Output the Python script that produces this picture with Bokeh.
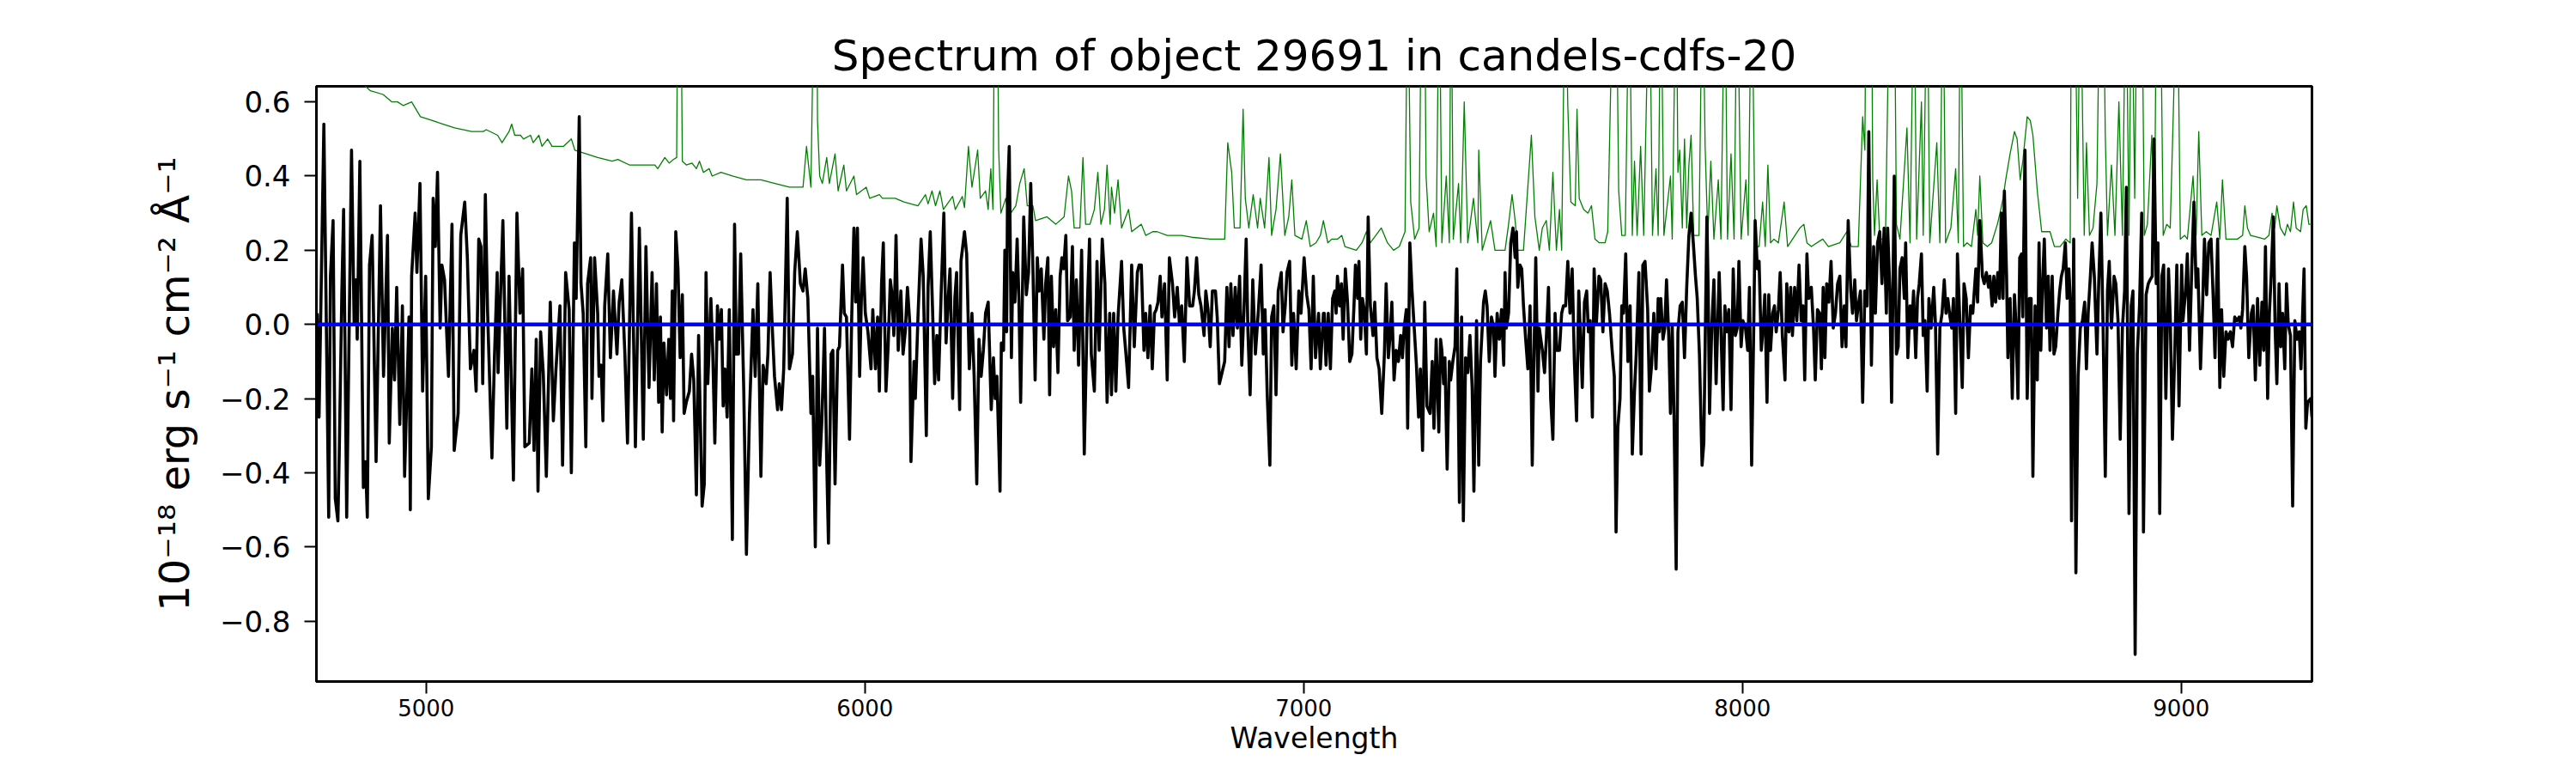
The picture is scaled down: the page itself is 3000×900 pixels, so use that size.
from bokeh.plotting import figure
from bokeh.models import Range1d, FixedTicker, CustomJSTickFormatter
from bokeh.embed import file_html
from bokeh.resources import INLINE

# ---------------- data (wavelength [A], flux [1e-18 erg/s/cm2/A]) ----------------
spec_4750_5520 = [
    (4752, 0.03), (4756, -0.25), (4767, 0.54), (4778, -0.52), (4782, 0.13), (4788, 0.28), (4793, -0.47),
    (4799, -0.53), (4802, -0.35), (4808, 0.09), (4812, 0.31), (4819, -0.52), (4830, 0.47), (4836, 0.00),
    (4840, 0.12), (4843, -0.04), (4849, 0.44), (4857, -0.44), (4862, -0.37), (4866, -0.52), (4871, 0.16),
    (4877, 0.24), (4886, -0.37), (4896, 0.32), (4903, -0.14), (4912, 0.24), (4916, -0.32), (4923, -0.01),
    (4928, -0.15), (4933, 0.10), (4940, -0.27), (4946, 0.05), (4951, -0.41), (4961, 0.02), (4964, -0.50),
    (4967, 0.13), (4975, 0.30), (4979, 0.14), (4986, 0.38), (4992, -0.18), (4999, 0.13), (5005, -0.47),
    (5012, -0.33), (5016, 0.34), (5021, 0.21), (5026, 0.41), (5032, -0.01), (5036, 0.16), (5042, 0.12),
    (5051, -0.14), (5059, 0.27), (5064, -0.34), (5073, -0.24), (5079, 0.24), (5088, 0.33), (5094, 0.18),
    (5101, -0.12), (5109, -0.07), (5114, -0.18), (5120, 0.23), (5125, 0.21), (5129, -0.16), (5135, 0.35),
    (5140, 0.04), (5150, -0.36), (5156, -0.08), (5162, 0.14), (5164, -0.13), (5175, 0.28), (5184, -0.28),
    (5189, 0.13), (5199, -0.42), (5207, 0.30), (5214, 0.03), (5220, 0.15), (5225, -0.33), (5235, -0.32),
    (5241, -0.12), (5246, -0.34), (5251, -0.04), (5255, -0.45), (5261, -0.02), (5267, -0.13), (5274, -0.41),
    (5283, 0.06), (5290, -0.26), (5296, -0.12), (5305, 0.05), (5311, -0.38), (5318, 0.14), (5326, 0.04),
    (5331, -0.40), (5338, 0.22), (5342, 0.07), (5349, 0.56), (5353, 0.11), (5358, 0.03), (5364, -0.33),
    (5368, 0.11), (5375, 0.18), (5378, -0.20), (5384, 0.18), (5391, 0.03), (5394, -0.14), (5399, -0.11),
    (5403, -0.26), (5407, 0.05), (5414, 0.19), (5420, -0.09), (5427, 0.09), (5435, -0.08), (5440, 0.06),
    (5446, 0.12), (5453, -0.08), (5459, -0.32), (5468, 0.30), (5477, -0.33), (5486, 0.26), (5495, -0.31),
    (5501, 0.21), (5508, -0.17), (5515, 0.14),
]
spec_5520_6285 = [
    (5520, -0.15), (5525, 0.11), (5530, -0.21), (5534, 0.02), (5538, -0.29), (5542, -0.05), (5548, -0.19),
    (5553, -0.04), (5557, -0.20), (5561, 0.09), (5564, -0.26), (5569, 0.25), (5574, 0.15), (5579, -0.09),
    (5584, 0.08), (5588, -0.24), (5593, -0.21), (5600, -0.18), (5605, -0.08), (5610, -0.15), (5616, -0.46),
    (5621, -0.03), (5629, -0.49), (5634, -0.43), (5638, 0.14), (5642, -0.16), (5649, 0.07), (5653, -0.06),
    (5658, -0.32), (5664, 0.05), (5668, -0.04), (5673, 0.04), (5677, -0.22), (5681, -0.12), (5686, -0.25),
    (5691, 0.04), (5698, -0.58), (5703, 0.27), (5707, -0.08), (5712, -0.08), (5717, 0.19), (5724, -0.18),
    (5730, -0.62), (5737, -0.24), (5745, 0.04), (5750, -0.14), (5756, 0.11), (5763, -0.41), (5768, -0.11),
    (5775, -0.16), (5779, -0.08), (5784, 0.14), (5789, -0.01), (5794, -0.14), (5801, -0.23), (5805, -0.16),
    (5810, -0.23), (5815, -0.12), (5818, 0.05), (5823, 0.34), (5828, -0.12), (5835, -0.08), (5840, 0.14),
    (5846, 0.25), (5853, 0.11), (5859, 0.09), (5864, 0.15), (5870, 0.07), (5877, -0.24), (5881, -0.14),
    (5887, -0.60), (5892, -0.01), (5897, -0.38), (5902, -0.26), (5908, -0.01), (5913, -0.37), (5917, -0.59),
    (5923, -0.08), (5927, -0.07), (5932, -0.43), (5938, -0.07), (5942, -0.06), (5949, 0.16), (5953, 0.03),
    (5958, 0.02), (5965, -0.31), (5970, 0.02), (5975, 0.26), (5979, 0.06), (5983, 0.26), (5988, -0.14),
    (5992, 0.07), (5996, 0.18), (6001, 0.03), (6007, -0.02), (6014, -0.12), (6018, 0.04), (6024, -0.12),
    (6029, 0.02), (6033, -0.18), (6038, 0.11), (6042, 0.22), (6048, -0.18), (6053, -0.06), (6058, 0.12),
    (6061, 0.09), (6066, -0.03), (6071, 0.24), (6076, -0.07), (6082, 0.09), (6087, -0.08), (6092, -0.02),
    (6097, 0.10), (6102, 0.01), (6105, -0.37), (6112, -0.10), (6115, -0.20), (6121, 0.02), (6128, 0.23),
    (6133, 0.13), (6140, -0.30), (6144, 0.10), (6149, 0.25), (6154, 0.05), (6159, -0.16), (6164, -0.03),
    (6168, -0.15), (6174, 0.09), (6180, 0.30), (6185, -0.05), (6190, 0.07), (6194, 0.15), (6200, -0.20),
    (6205, 0.07), (6209, 0.14), (6216, -0.23), (6219, 0.17), (6227, 0.25), (6232, 0.19), (6238, -0.12),
    (6244, 0.03), (6249, -0.14), (6255, -0.43), (6260, -0.04), (6265, -0.14), (6270, -0.07), (6275, 0.03),
    (6281, 0.06),
]
spec_6285_7045 = [
    (6288, -0.23), (6293, -0.09), (6297, -0.20), (6301, -0.14), (6308, -0.45), (6311, -0.05), (6316, -0.07),
    (6319, 0.20), (6323, -0.02), (6325, 0.34), (6329, 0.48), (6334, -0.09), (6337, 0.14), (6342, 0.06),
    (6347, 0.23), (6351, 0.07), (6355, -0.21), (6362, 0.29), (6368, 0.08), (6373, 0.14), (6378, 0.38),
    (6383, 0.15), (6388, -0.15), (6393, 0.18), (6397, 0.09), (6402, 0.15), (6408, -0.04), (6412, 0.11),
    (6417, 0.18), (6421, -0.19), (6425, 0.13), (6430, -0.06), (6435, 0.04), (6440, -0.13), (6445, 0.13),
    (6449, 0.18), (6453, 0.15), (6458, 0.24), (6462, 0.01), (6468, 0.02), (6473, 0.21), (6477, -0.07),
    (6482, 0.12), (6487, -0.11), (6494, 0.20), (6500, -0.35), (6507, 0.05), (6512, 0.23), (6516, -0.08),
    (6523, -0.18), (6529, 0.17), (6534, -0.07), (6541, 0.23), (6547, 0.11), (6552, -0.21), (6558, 0.03),
    (6562, -0.19), (6567, 0.03), (6572, -0.18), (6577, 0.02), (6585, 0.17), (6590, -0.01), (6595, -0.08),
    (6601, -0.17), (6608, 0.16), (6614, -0.06), (6621, 0.14), (6625, 0.16), (6630, 0.16), (6636, -0.07),
    (6640, 0.03), (6645, -0.09), (6650, 0.05), (6655, -0.12), (6660, 0.03), (6664, 0.04), (6668, 0.06),
    (6673, 0.13), (6677, 0.02), (6683, 0.11), (6689, -0.15), (6694, 0.18), (6701, 0.11), (6706, 0.02),
    (6712, 0.10), (6717, 0.00), (6722, 0.05), (6728, -0.10), (6734, 0.18), (6740, 0.05), (6747, 0.05),
    (6751, 0.09), (6756, 0.18), (6761, 0.08), (6766, 0.05), (6773, -0.03), (6777, 0.09), (6782, 0.04),
    (6787, -0.06), (6792, 0.09), (6799, 0.09), (6803, 0.02), (6808, -0.16), (6814, -0.13), (6820, -0.10),
    (6825, 0.10), (6830, -0.06), (6834, 0.11), (6839, -0.03), (6844, 0.10), (6849, -0.01), (6854, 0.13),
    (6859, -0.11), (6864, 0.04), (6869, 0.23), (6873, -0.02), (6878, -0.19), (6884, 0.12), (6890, -0.08),
    (6897, 0.04), (6903, 0.16), (6908, -0.08), (6912, 0.04), (6917, -0.19), (6923, -0.38), (6927, 0.02),
    (6932, 0.05), (6937, -0.19), (6942, 0.09), (6949, 0.14), (6953, -0.02), (6958, 0.05), (6962, 0.14),
    (6968, 0.17), (6973, -0.11), (6977, 0.03), (6983, -0.12), (6989, 0.09), (6994, 0.03), (7001, 0.18),
    (7007, 0.08), (7012, 0.04), (7017, -0.12), (7022, 0.13), (7027, -0.09), (7034, 0.03), (7038, -0.12),
    (7045, 0.03),
]
spec_7045_7810 = [
    (7047, 0.03), (7051, -0.11), (7056, 0.03), (7061, -0.12), (7066, 0.07), (7071, 0.09), (7074, 0.03),
    (7077, 0.13), (7082, 0.05), (7086, 0.11), (7090, -0.04), (7095, 0.15), (7100, 0.06), (7105, -0.10),
    (7110, -0.08), (7115, 0.06), (7118, 0.16), (7123, 0.07), (7126, 0.17), (7130, -0.04), (7134, 0.07),
    (7138, 0.04), (7143, -0.08), (7147, 0.29), (7152, 0.05), (7158, -0.03), (7162, 0.06), (7167, -0.09),
    (7172, -0.12), (7178, -0.24), (7184, -0.08), (7188, 0.11), (7193, -0.09), (7197, -0.03), (7201, 0.06),
    (7206, -0.15), (7211, -0.07), (7216, -0.10), (7221, -0.03), (7225, -0.09), (7229, -0.01), (7234, 0.04),
    (7237, -0.28), (7242, 0.22), (7247, 0.09), (7251, 0.01), (7257, -0.11), (7262, -0.25), (7266, -0.12),
    (7271, -0.34), (7276, 0.06), (7281, -0.22), (7288, -0.24), (7293, -0.10), (7297, -0.28), (7302, -0.04),
    (7308, -0.29), (7312, -0.04), (7315, -0.07), (7319, -0.16), (7322, -0.09), (7327, -0.39), (7332, -0.10),
    (7335, -0.15), (7340, -0.10), (7345, -0.06), (7349, 0.15), (7355, -0.48), (7360, 0.02), (7364, -0.53),
    (7369, -0.09), (7374, -0.13), (7379, -0.03), (7384, -0.17), (7388, -0.45), (7394, 0.01), (7399, -0.38),
    (7403, -0.10), (7410, 0.06), (7414, 0.09), (7418, 0.05), (7423, -0.10), (7428, 0.02), (7433, -0.01),
    (7436, -0.14), (7441, 0.03), (7446, -0.04), (7451, 0.04), (7456, -0.11), (7459, 0.14), (7462, -0.01),
    (7467, 0.03), (7472, 0.22), (7477, 0.26), (7482, 0.18), (7485, 0.25), (7488, 0.10), (7493, 0.16),
    (7497, 0.15), (7501, 0.05), (7506, -0.04), (7511, -0.12), (7516, 0.05), (7521, -0.38), (7525, -0.08),
    (7529, 0.18), (7534, -0.18), (7537, -0.01), (7544, -0.07), (7549, -0.13), (7553, -0.04), (7558, 0.10),
    (7563, -0.20), (7568, -0.31), (7573, 0.03), (7577, -0.07), (7583, -0.07), (7588, 0.03), (7592, 0.05),
    (7597, 0.05), (7602, 0.17), (7607, 0.03), (7612, 0.15), (7617, -0.10), (7622, -0.26), (7627, 0.09),
    (7632, -0.07), (7635, -0.17), (7640, 0.06), (7645, 0.09), (7649, -0.02), (7653, 0.01), (7658, -0.25),
    (7662, 0.15), (7667, 0.00), (7673, 0.13), (7677, 0.12), (7682, -0.02), (7687, 0.11), (7692, 0.09),
    (7697, 0.03), (7703, -0.07), (7708, -0.14), (7712, -0.56), (7716, -0.28), (7721, -0.20), (7725, 0.05),
    (7729, 0.03), (7734, 0.19), (7739, -0.10), (7744, 0.05), (7749, -0.35), (7754, -0.18), (7758, -0.08),
    (7764, 0.14), (7769, -0.35), (7773, 0.16), (7778, 0.17), (7784, 0.04), (7788, -0.18), (7793, -0.11),
    (7798, 0.03), (7803, -0.12), (7808, 0.07),
]
spec_7810_8562 = [
    (7810, -0.02), (7814, 0.07), (7819, -0.04), (7823, -0.01), (7827, 0.12), (7832, -0.03), (7836, -0.24),
    (7840, 0.00), (7844, -0.24), (7849, -0.66), (7853, -0.02), (7858, 0.05), (7863, 0.06), (7868, -0.09),
    (7873, 0.10), (7878, 0.24), (7883, 0.30), (7888, 0.22), (7893, 0.13), (7897, 0.07), (7902, -0.08),
    (7908, -0.38), (7912, -0.32), (7919, 0.29), (7922, 0.09), (7925, -0.24), (7930, -0.01), (7935, 0.12),
    (7940, -0.16), (7947, 0.14), (7951, -0.01), (7956, -0.23), (7960, 0.05), (7964, -0.02), (7969, 0.04),
    (7974, -0.23), (7979, 0.15), (7984, -0.03), (7988, -0.01), (7992, 0.17), (7997, -0.06), (8001, 0.01),
    (8007, -0.01), (8012, -0.07), (8016, 0.10), (8021, -0.38), (8026, 0.01), (8029, 0.28), (8034, 0.15),
    (8038, 0.17), (8043, -0.07), (8047, -0.01), (8051, 0.08), (8056, -0.21), (8060, 0.08), (8064, -0.07),
    (8069, 0.03), (8073, 0.05), (8077, -0.02), (8082, 0.04), (8086, 0.14), (8091, -0.03), (8097, -0.15),
    (8101, 0.11), (8106, -0.02), (8110, 0.10), (8114, -0.03), (8119, 0.10), (8124, 0.01), (8129, 0.16),
    (8134, 0.01), (8138, 0.05), (8142, -0.15), (8147, 0.19), (8151, 0.07), (8157, 0.10), (8162, -0.01),
    (8166, -0.15), (8171, 0.04), (8176, 0.03), (8180, -0.12), (8184, 0.10), (8188, -0.09), (8192, 0.11),
    (8197, 0.06), (8202, 0.17), (8207, -0.01), (8212, 0.03), (8217, 0.11), (8222, 0.13), (8227, -0.06),
    (8232, 0.05), (8236, -0.06), (8241, 0.28), (8247, 0.09), (8251, 0.03), (8256, 0.12), (8260, 0.01),
    (8264, 0.05), (8269, 0.09), (8274, -0.21), (8279, 0.09), (8284, 0.05), (8288, 0.52), (8294, -0.11),
    (8299, 0.21), (8303, 0.03), (8308, 0.22), (8313, 0.25), (8318, 0.11), (8323, 0.26), (8328, 0.03),
    (8331, 0.26), (8336, 0.09), (8340, -0.21), (8346, 0.40), (8351, -0.08), (8355, -0.06), (8359, 0.15),
    (8364, 0.18), (8369, 0.07), (8372, 0.22), (8377, -0.09), (8382, 0.05), (8386, -0.01), (8390, 0.09),
    (8395, -0.09), (8399, 0.07), (8403, 0.11), (8408, 0.19), (8412, -0.03), (8416, 0.01), (8421, -0.18),
    (8425, 0.07), (8430, -0.01), (8436, 0.10), (8440, 0.00), (8445, -0.35), (8450, -0.01), (8455, 0.03),
    (8460, 0.12), (8464, 0.03), (8468, 0.07), (8473, 0.02), (8477, -0.01), (8481, 0.07), (8486, -0.24),
    (8490, 0.19), (8496, -0.01), (8501, -0.17), (8505, 0.11), (8510, 0.07), (8515, -0.09), (8520, 0.05),
    (8525, 0.03), (8532, 0.15), (8536, 0.06), (8541, 0.28), (8547, 0.13), (8551, 0.11), (8556, 0.14),
    (8561, 0.10),
]
spec_8562_9300 = [
    (8564, 0.13), (8569, 0.05), (8573, 0.13), (8577, 0.06), (8582, 0.14), (8586, 0.07), (8590, 0.30),
    (8594, 0.07), (8597, 0.36), (8602, 0.13), (8605, -0.09), (8610, 0.07), (8615, -0.20), (8620, 0.08),
    (8623, 0.01), (8628, -0.20), (8632, 0.18), (8636, 0.19), (8639, 0.02), (8644, 0.47), (8649, -0.20),
    (8654, 0.07), (8658, 0.07), (8662, -0.41), (8667, 0.05), (8672, -0.15), (8676, 0.22), (8680, -0.07),
    (8684, 0.11), (8688, 0.23), (8693, -0.01), (8697, 0.13), (8701, -0.07), (8706, 0.13), (8710, -0.08),
    (8714, -0.06), (8719, 0.03), (8723, 0.09), (8727, 0.13), (8731, 0.15), (8736, 0.22), (8740, 0.07),
    (8744, 0.15), (8747, 0.07), (8750, -0.53), (8755, 0.23), (8760, -0.67), (8765, -0.14), (8770, -0.01),
    (8775, 0.01), (8780, 0.06), (8784, -0.12), (8788, 0.03), (8793, 0.13), (8797, 0.22), (8802, 0.13),
    (8808, -0.08), (8812, 0.11), (8817, 0.30), (8822, -0.01), (8827, -0.41), (8832, 0.09), (8836, 0.17),
    (8841, -0.01), (8847, 0.13), (8851, 0.11), (8856, 0.01), (8861, -0.31), (8866, -0.01), (8871, 0.09),
    (8875, 0.37), (8881, -0.51), (8886, 0.05), (8890, 0.09), (8895, -0.89), (8900, -0.08), (8905, 0.05),
    (8910, 0.30), (8914, -0.56), (8920, 0.08), (8925, 0.11), (8929, 0.12), (8934, 0.13), (8938, 0.50),
    (8943, 0.11), (8947, 0.22), (8951, -0.51), (8956, 0.13), (8960, 0.16), (8965, -0.20), (8971, 0.15),
    (8975, 0.02), (8980, -0.31), (8985, -0.09), (8990, 0.16), (8995, -0.22), (9001, 0.16), (9004, 0.01),
    (9010, 0.09), (9014, 0.19), (9019, -0.07), (9024, 0.15), (9029, 0.33), (9034, 0.10), (9038, 0.15),
    (9044, -0.12), (9049, 0.06), (9053, 0.23), (9058, 0.08), (9063, 0.22), (9068, 0.23), (9073, 0.07),
    (9077, -0.09), (9083, 0.23), (9088, -0.17), (9092, 0.04), (9097, -0.14), (9102, -0.02), (9107, -0.04),
    (9112, -0.02), (9117, -0.06), (9122, 0.02), (9127, 0.01), (9132, 0.02), (9136, -0.01), (9140, 0.04),
    (9145, 0.21), (9149, 0.13), (9154, -0.09), (9160, 0.03), (9164, 0.05), (9169, -0.15), (9174, 0.07),
    (9179, -0.11), (9184, 0.06), (9188, -0.07), (9192, 0.21), (9197, -0.20), (9201, 0.03), (9205, 0.13),
    (9210, 0.29), (9214, -0.01), (9218, -0.16), (9223, 0.11), (9227, -0.06), (9231, 0.03), (9236, -0.12),
    (9240, 0.11), (9244, 0.00), (9249, -0.03), (9254, -0.49), (9259, 0.01), (9264, -0.04), (9269, -0.02),
    (9273, -0.12), (9277, 0.04), (9280, 0.15), (9284, -0.28), (9288, -0.21), (9295, -0.20), (9298, -0.25),
]

# noise / sky spectrum (values above the top of the plot are clipped sky-line peaks)
sky_4750_5525 = [
    (4750, 0.76), (4800, 0.70), (4850, 0.655), (4873, 0.63), (4902, 0.62), (4922, 0.60), (4935, 0.60),
    (4948, 0.59), (4967, 0.60), (4987, 0.56), (5013, 0.55), (5039, 0.54), (5065, 0.53), (5104, 0.52),
    (5130, 0.52), (5137, 0.525), (5163, 0.51), (5173, 0.49), (5189, 0.52), (5195, 0.54), (5202, 0.51),
    (5215, 0.51), (5222, 0.50), (5238, 0.51), (5244, 0.49), (5257, 0.51), (5264, 0.48), (5277, 0.50),
    (5287, 0.48), (5313, 0.48), (5331, 0.50), (5339, 0.47), (5365, 0.46), (5391, 0.45), (5424, 0.44),
    (5437, 0.445), (5463, 0.43), (5489, 0.43), (5521, 0.43),
]
sky_5525_6285 = [
    (5528, 0.42), (5544, 0.45), (5554, 0.435), (5564, 0.445), (5571, 0.45), (5574, 1.0), (5580, 1.0),
    (5584, 0.44), (5593, 0.43), (5606, 0.435), (5616, 0.42), (5623, 0.44), (5632, 0.41), (5645, 0.42),
    (5652, 0.40), (5672, 0.41), (5698, 0.40), (5730, 0.39), (5763, 0.39), (5795, 0.38), (5828, 0.37),
    (5859, 0.37), (5867, 0.48), (5877, 0.37), (5885, 1.0), (5890, 1.0), (5892, 0.55), (5897, 0.40),
    (5903, 0.38), (5913, 0.45), (5919, 0.38), (5932, 0.46), (5939, 0.36), (5952, 0.43), (5958, 0.36),
    (5975, 0.40), (5981, 0.35), (6003, 0.37), (6011, 0.34), (6033, 0.35), (6040, 0.34), (6069, 0.34),
    (6089, 0.33), (6121, 0.32), (6138, 0.35), (6144, 0.325), (6153, 0.36), (6161, 0.32), (6171, 0.36),
    (6179, 0.31), (6200, 0.345), (6206, 0.31), (6222, 0.345), (6227, 0.315), (6236, 0.48), (6244, 0.37),
    (6257, 0.47), (6263, 0.34), (6275, 0.36), (6281, 0.31),
]
sky_6285_7030 = [
    (6287, 0.42), (6292, 0.31), (6296, 1.0), (6301, 1.0), (6305, 0.47), (6310, 0.30), (6321, 0.34),
    (6327, 0.29), (6344, 0.32), (6353, 0.38), (6363, 0.42), (6370, 0.32), (6383, 0.32), (6389, 0.28),
    (6415, 0.29), (6435, 0.27), (6454, 0.29), (6464, 0.40), (6471, 0.36), (6477, 0.26), (6490, 0.26),
    (6497, 0.45), (6503, 0.27), (6513, 0.27), (6523, 0.31), (6531, 0.41), (6538, 0.27), (6546, 0.31),
    (6552, 0.43), (6559, 0.27), (6562, 0.37), (6569, 0.30), (6577, 0.39), (6585, 0.26), (6601, 0.31),
    (6608, 0.25), (6630, 0.27), (6640, 0.24), (6656, 0.25), (6666, 0.25), (6689, 0.24), (6722, 0.24),
    (6745, 0.235), (6787, 0.23), (6820, 0.23), (6827, 0.49), (6836, 0.41), (6842, 0.26), (6855, 0.26),
    (6862, 0.58), (6867, 0.34), (6875, 0.26), (6885, 0.35), (6895, 0.26), (6901, 0.34), (6911, 0.26),
    (6921, 0.45), (6927, 0.24), (6937, 0.31), (6947, 0.46), (6957, 0.24), (6966, 0.29), (6973, 0.39),
    (6980, 0.24), (6996, 0.23), (7006, 0.28), (7015, 0.21), (7028, 0.22),
]
sky_7030_7800 = [
    (7038, 0.24), (7045, 0.28), (7055, 0.22), (7064, 0.23), (7077, 0.23), (7087, 0.24), (7094, 0.21),
    (7120, 0.20), (7133, 0.22), (7143, 0.25), (7152, 0.22), (7177, 0.26), (7191, 0.22), (7205, 0.20),
    (7218, 0.21), (7231, 0.25), (7237, 1.0), (7244, 0.33), (7253, 0.23), (7263, 0.26), (7269, 1.0),
    (7275, 1.0), (7279, 0.40), (7286, 0.25), (7296, 0.30), (7302, 0.21), (7309, 1.0), (7315, 0.22),
    (7325, 0.40), (7332, 0.22), (7336, 1.0), (7341, 0.23), (7353, 0.38), (7358, 0.22), (7366, 0.60),
    (7374, 0.22), (7387, 0.34), (7397, 0.22), (7399, 0.47), (7407, 0.20), (7426, 0.28), (7436, 0.20),
    (7459, 0.20), (7467, 0.27), (7475, 0.35), (7482, 0.28), (7488, 0.20), (7501, 0.20), (7519, 0.51),
    (7527, 0.29), (7537, 0.20), (7544, 0.26), (7553, 0.28), (7560, 0.20), (7568, 0.41), (7576, 0.20),
    (7583, 0.31), (7588, 0.20), (7596, 1.0), (7602, 0.59), (7609, 0.33), (7619, 0.32), (7623, 0.58),
    (7628, 0.34), (7638, 0.31), (7648, 0.30), (7656, 0.32), (7664, 0.23), (7674, 0.22), (7687, 0.22),
    (7693, 0.25), (7706, 1.0), (7712, 1.0), (7718, 0.36), (7725, 0.24), (7733, 0.24), (7742, 1.0),
    (7749, 0.24), (7754, 0.44), (7760, 0.24), (7768, 0.48), (7775, 0.24), (7788, 1.0), (7795, 0.24),
]
sky_7800_8570 = [
    (7803, 0.42), (7808, 0.24), (7814, 1.0), (7821, 0.24), (7836, 0.40), (7840, 0.23), (7849, 1.0),
    (7853, 0.41), (7857, 0.47), (7863, 0.26), (7868, 0.50), (7873, 0.26), (7878, 0.43), (7883, 0.51),
    (7889, 0.24), (7901, 0.24), (7909, 1.0), (7915, 0.48), (7921, 0.24), (7928, 0.44), (7935, 0.23),
    (7945, 0.39), (7951, 0.23), (7960, 1.0), (7966, 0.23), (7974, 0.46), (7981, 0.23), (7988, 1.0),
    (7997, 0.23), (8008, 0.39), (8013, 0.24), (8021, 1.0), (8029, 0.21), (8038, 0.21), (8046, 0.33),
    (8052, 0.21), (8058, 0.43), (8064, 0.22), (8072, 0.23), (8082, 0.22), (8088, 0.27), (8095, 0.33),
    (8103, 0.21), (8131, 0.26), (8140, 0.27), (8147, 0.22), (8157, 0.21), (8183, 0.23), (8196, 0.21),
    (8222, 0.22), (8238, 0.25), (8248, 0.21), (8264, 0.21), (8274, 0.56), (8279, 0.47), (8282, 1.0),
    (8294, 1.0), (8297, 0.39), (8301, 0.24), (8307, 0.39), (8313, 0.23), (8326, 0.23), (8336, 1.0),
    (8346, 1.0), (8351, 0.27), (8359, 0.23), (8375, 0.53), (8382, 0.22), (8391, 1.0), (8397, 0.23),
    (8408, 0.60), (8412, 0.24), (8421, 1.0), (8427, 0.22), (8443, 0.49), (8450, 0.22), (8457, 1.0),
    (8463, 0.22), (8475, 0.26), (8486, 0.42), (8492, 0.22), (8497, 1.0), (8504, 0.21), (8512, 0.22),
    (8522, 0.21), (8532, 0.31), (8536, 0.24), (8541, 0.40), (8548, 0.22), (8558, 0.21), (8568, 0.22),
]
sky_8570_9300 = [
    (8581, 0.27), (8587, 0.30), (8594, 0.34), (8600, 0.39), (8610, 0.46), (8620, 0.52), (8626, 0.50),
    (8633, 0.39), (8639, 0.44), (8649, 0.56), (8656, 0.55), (8662, 0.51), (8672, 0.36), (8682, 0.25),
    (8692, 0.25), (8701, 0.25), (8711, 0.21), (8724, 0.21), (8737, 0.23), (8747, 0.22), (8750, 1.0),
    (8757, 1.0), (8764, 0.34), (8770, 1.0), (8779, 0.24), (8784, 0.49), (8791, 0.24), (8799, 0.26),
    (8808, 0.38), (8815, 1.0), (8822, 1.0), (8827, 0.51), (8832, 0.24), (8841, 0.43), (8849, 0.24),
    (8858, 0.60), (8866, 0.24), (8874, 1.0), (8881, 0.24), (8887, 1.0), (8894, 0.34), (8900, 1.0),
    (8910, 1.0), (8916, 0.24), (8923, 0.27), (8933, 0.51), (8939, 0.24), (8944, 1.0), (8952, 1.0),
    (8959, 0.24), (8967, 0.27), (8975, 0.26), (8982, 0.57), (8991, 1.0), (8998, 0.23), (9008, 0.24),
    (9014, 0.23), (9027, 0.40), (9034, 0.24), (9040, 0.52), (9047, 0.24), (9057, 0.25), (9068, 0.24),
    (9081, 0.33), (9088, 0.23), (9094, 0.39), (9102, 0.23), (9115, 0.23), (9128, 0.23), (9140, 0.24),
    (9145, 0.32), (9151, 0.26), (9158, 0.24), (9174, 0.235), (9190, 0.23), (9200, 0.24), (9207, 0.30),
    (9213, 0.26), (9218, 0.32), (9226, 0.26), (9236, 0.24), (9242, 0.27), (9249, 0.25), (9256, 0.33),
    (9262, 0.26), (9272, 0.25), (9278, 0.31), (9285, 0.32), (9291, 0.27), (9298, 0.27),
]

# model (zero level)
model_wavelength = [4740, 9310]
model_flux = [0.0, 0.0]

x_ticks = [5000, 6000, 7000, 8000, 9000]
y_ticks = [-0.8, -0.6, -0.4, -0.2, 0.0, 0.2, 0.4, 0.6]
x_limits = (4750, 9298)
y_limits = (-0.963, 0.642)

title_text = "Spectrum of object 29691 in candels-cdfs-20"
x_label = "Wavelength"
y_label = "10\u207b\u00b9\u2078 erg s\u207b\u00b9 cm\u207b\u00b2 \u00c5\u207b\u00b9"

spectrum = (spec_4750_5520 + spec_5520_6285 + spec_6285_7045 +
            spec_7045_7810 + spec_7810_8562 + spec_8562_9300)
sky = (sky_4750_5525 + sky_5525_6285 + sky_6285_7030 +
       sky_7030_7800 + sky_7800_8570 + sky_8570_9300)

wavelength = [w for w, _ in spectrum]
flux = [f for _, f in spectrum]
sky_wavelength = [w for w, _ in sky]
sky_flux = [f for _, f in sky]

FONT = "DejaVu Sans"

p = figure(width=2984, height=884, output_backend="svg", toolbar_location=None,
           x_range=Range1d(*x_limits), y_range=Range1d(*y_limits),
           min_border_left=368, min_border_right=292, min_border_top=100, min_border_bottom=91,
           title=title_text)
p.background_fill_color = "white"
p.border_fill_color = "white"
p.outline_line_color = "black"
p.outline_line_width = 3
p.outline_line_alpha = 1.0
p.grid.visible = False

p.title.text_font = FONT
p.title.text_font_size = "50px"
p.title.text_font_style = "normal"
p.title.text_color = "black"
p.title.align = "center"
p.title.standoff = 14

p.xaxis.ticker = FixedTicker(ticks=x_ticks)
p.yaxis.ticker = FixedTicker(ticks=y_ticks)
p.yaxis.formatter = CustomJSTickFormatter(
    code="return (tick < -1e-9 ? '\u2212' : '') + Math.abs(tick).toFixed(1);")

for ax in (p.xaxis[0], p.yaxis[0]):
    ax.axis_line_width = 3
    ax.axis_line_color = "black"
    ax.major_tick_out = 14
    ax.major_tick_in = 0
    ax.major_tick_line_width = 2
    ax.major_tick_line_color = "black"
    ax.minor_tick_line_color = None
    ax.major_label_text_font = FONT
    ax.major_label_text_color = "black"
    ax.axis_label_text_font = FONT
    ax.axis_label_text_font_style = "normal"
    ax.axis_label_text_color = "black"

p.xaxis.major_label_text_font_size = "26px"
p.xaxis.major_label_standoff = 6
p.xaxis.axis_label = x_label
p.xaxis.axis_label_text_font_size = "33px"
p.xaxis.axis_label_standoff = 3

p.yaxis.major_label_text_font_size = "34px"
p.yaxis.major_label_standoff = 16
p.yaxis.axis_label = y_label
p.yaxis.axis_label_text_font_size = "48px"
p.yaxis.axis_label_standoff = 22

p.line(sky_wavelength, sky_flux, line_color="#008000", line_width=1.3, line_join="round")
p.line(wavelength, flux, line_color="black", line_width=3.6, line_join="round")
p.line(model_wavelength, model_flux, line_color="#0000ff", line_width=4.5)

open("out.html", "w").write(file_html(p, INLINE))
